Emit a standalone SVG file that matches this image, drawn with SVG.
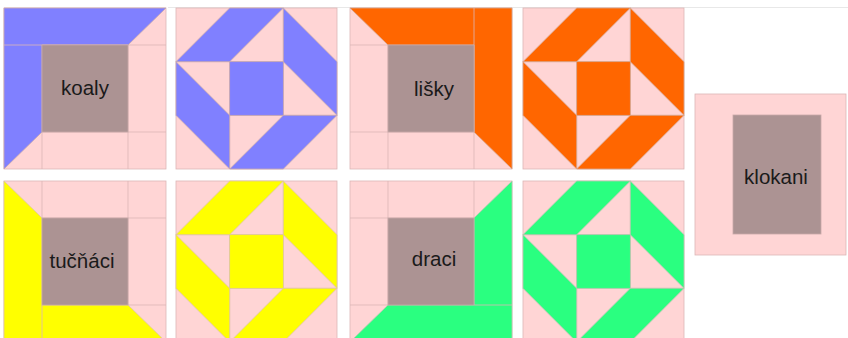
<svg xmlns="http://www.w3.org/2000/svg" width="848" height="338" viewBox="0 0 848 338">
<style>
.bg{fill:#ffffff}
.pk{fill:#ffd5d5;stroke:#dcb6b6;stroke-width:0.8}
.gr{fill:#ac9393;stroke:#c8a8a8;stroke-width:0.8}
.ln{stroke:#dcb6b6;stroke-width:0.8;fill:none}
.b{fill:#8080ff;stroke:#c8a8b0;stroke-width:0.8}
.o{fill:#ff6600;stroke:#d8a890;stroke-width:0.8}
.y{fill:#ffff00;stroke:#e0c8a0;stroke-width:0.8}
.g{fill:#2aff80;stroke:#b8c8b0;stroke-width:0.8}
.t{font-family:"Liberation Sans",Arial,sans-serif;font-size:20.5px;fill:#1a1a1a;text-anchor:middle}
</style>
<defs>
<g id="grid4">
<rect class="pk" x="0" y="0" width="162" height="161"/>
<path class="ln" d="M38 0V161M124 0V161M0 37H162M0 124H162"/>
</g>
<g id="oct">
<rect class="pk" x="0" y="0" width="161" height="161"/>
<path class="ln" d="M53.67 0V161M107.33 0V161M0 53.67H161M0 107.33H161"/>
</g>
</defs>
<rect class="bg" x="0" y="0" width="848" height="338"/>
<line x1="168" y1="7.5" x2="848" y2="7.5" stroke="#e8e8e8" stroke-width="1"/>

<g id="koaly" transform="translate(4,8)">
<use href="#grid4"/>
<polygon class="b" points="0,0 162,0 124,37 38,37 38,124 0,161"/>
<path class="ln" d="M0 37H124"/>
<rect class="gr" x="38" y="37" width="86" height="87"/>
<text class="t" x="81" y="87">koaly</text>
</g>

<g id="blue-star" transform="translate(176,8)">
<use href="#oct"/>
<polygon class="b" points="0,53.67 53.67,0 107.33,0 53.67,53.67"/>
<polygon class="b" points="107.33,0 161,53.67 161,107.33 107.33,53.67"/>
<polygon class="b" points="161,107.33 107.33,161 53.67,161 107.33,107.33"/>
<polygon class="b" points="0,53.67 53.67,107.33 53.67,161 0,107.33"/>
<rect class="b" x="53.67" y="53.67" width="53.66" height="53.66"/>
</g>

<g id="lisky" transform="translate(350,8)">
<use href="#grid4"/>
<polygon class="o" points="0,0 162,0 162,161 124,124 124,37 38,37"/>
<path class="ln" d="M124 0V124"/>
<rect class="gr" x="38" y="37" width="86" height="87"/>
<text class="t" x="84" y="88">lišky</text>
</g>

<g id="orange-star" transform="translate(523,8)">
<use href="#oct"/>
<polygon class="o" points="0,53.67 53.67,0 107.33,0 53.67,53.67"/>
<polygon class="o" points="107.33,0 161,53.67 161,107.33 107.33,53.67"/>
<polygon class="o" points="161,107.33 107.33,161 53.67,161 107.33,107.33"/>
<polygon class="o" points="0,53.67 53.67,107.33 53.67,161 0,107.33"/>
<rect class="o" x="53.67" y="53.67" width="53.66" height="53.66"/>
</g>

<g id="klokani">
<rect class="pk" x="695" y="94" width="151" height="161"/>
<rect class="gr" x="733" y="115" width="88" height="119"/>
<text class="t" x="776" y="184">klokani</text>
</g>

<g id="tucnaci" transform="translate(4,181)">
<use href="#grid4"/>
<polygon class="y" points="0,0 38,37 38,124 124,124 162,161 0,161"/>
<path class="ln" d="M38 124V161"/>
<rect class="gr" x="38" y="37" width="86" height="87"/>
<text class="t" x="78" y="87">tučňáci</text>
</g>

<g id="yellow-star" transform="translate(176,181)">
<use href="#oct"/>
<polygon class="y" points="0,53.67 53.67,0 107.33,0 53.67,53.67"/>
<polygon class="y" points="107.33,0 161,53.67 161,107.33 107.33,53.67"/>
<polygon class="y" points="161,107.33 107.33,161 53.67,161 107.33,107.33"/>
<polygon class="y" points="0,53.67 53.67,107.33 53.67,161 0,107.33"/>
<rect class="y" x="53.67" y="53.67" width="53.66" height="53.66"/>
</g>

<g id="draci" transform="translate(350,181)">
<use href="#grid4"/>
<polygon class="g" points="162,0 124,37 124,124 38,124 0,161 162,161"/>
<path class="ln" d="M124 124H162"/>
<rect class="gr" x="38" y="37" width="86" height="87"/>
<text class="t" x="84" y="85">draci</text>
</g>

<g id="green-star" transform="translate(523,181)">
<use href="#oct"/>
<polygon class="g" points="0,53.67 53.67,0 107.33,0 53.67,53.67"/>
<polygon class="g" points="107.33,0 161,53.67 161,107.33 107.33,53.67"/>
<polygon class="g" points="161,107.33 107.33,161 53.67,161 107.33,107.33"/>
<polygon class="g" points="0,53.67 53.67,107.33 53.67,161 0,107.33"/>
<rect class="g" x="53.67" y="53.67" width="53.66" height="53.66"/>
</g>

<g id="connectors"></g>
</svg>
